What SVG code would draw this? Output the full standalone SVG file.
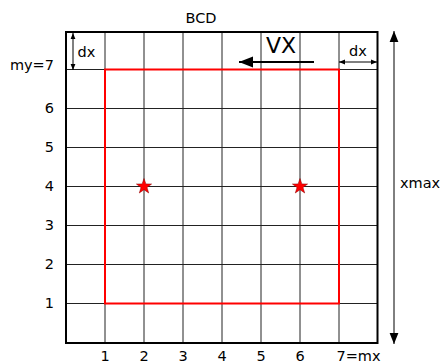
<svg xmlns="http://www.w3.org/2000/svg" width="442" height="364" viewBox="0 0 442 364">
<style>
text{font-family:"DejaVu Sans",sans-serif;font-size:14.5px;fill:#000}
.g{stroke:#222;stroke-width:1;fill:none}
.dim{stroke:#000;stroke-width:1;fill:none}
</style>
<defs>
<marker id="ah" viewBox="0 0 10 10" refX="10" refY="5" markerWidth="6" markerHeight="6" orient="auto-start-reverse" markerUnits="userSpaceOnUse"><path d="M0,1 L10,5 L0,9 Z" fill="#000"/></marker>
<marker id="ab" viewBox="0 0 10 10" refX="10" refY="5" markerWidth="11" markerHeight="11" orient="auto-start-reverse" markerUnits="userSpaceOnUse"><path d="M0,1 L10,5 L0,9 Z" fill="#000"/></marker>
<marker id="av" viewBox="0 0 10 10" refX="10" refY="5" markerWidth="14" markerHeight="14" orient="auto-start-reverse" markerUnits="userSpaceOnUse"><path d="M0,1 L10,5 L0,9 Z" fill="#000"/></marker>
</defs>
<g id="grid">
<path class="g" d="M105,32V343M144,32V343M183,32V343M222,32V343M261,32V343M300,32V343M339,32V343M66,69.5H378M66,108.5H378M66,147.5H378M66,186.5H378M66,225.5H378M66,264.5H378M66,303.5H378"/>
<rect x="66" y="32" width="311.5" height="311" fill="none" stroke="#000" stroke-width="2"/>
</g>
<g id="redbox"><rect x="105" y="69.5" width="234" height="234" fill="none" stroke="#f00" stroke-width="2"/></g>
<g id="star1"><path transform="translate(144,186.5)" d="M0,-8 L1.9,-2.6 7.6,-2.5 3,1 4.7,6.5 0,3.2 -4.7,6.5 -3,1 -7.6,-2.5 -1.9,-2.6Z" fill="#f00" stroke="#800" stroke-width="0.5"/></g>
<g id="star2"><path transform="translate(300,186.5)" d="M0,-8 L1.9,-2.6 7.6,-2.5 3,1 4.7,6.5 0,3.2 -4.7,6.5 -3,1 -7.6,-2.5 -1.9,-2.6Z" fill="#f00" stroke="#800" stroke-width="0.5"/></g>
<g id="connectors">
<line class="dim" x1="73" y1="33" x2="73" y2="70" marker-start="url(#ah)" marker-end="url(#ah)"/>
<line class="dim" x1="339" y1="62" x2="377" y2="62" marker-start="url(#ah)" marker-end="url(#ah)"/>
<line x1="314" y1="62" x2="239" y2="62" stroke="#000" stroke-width="2" marker-end="url(#av)"/>
<line class="dim" x1="394" y1="31" x2="394" y2="344" marker-start="url(#ab)" marker-end="url(#ab)"/>
</g>
<g id="labels">
<text x="201" y="23" text-anchor="middle">BCD</text>
<text x="77.5" y="56.5">dx</text>
<text x="349" y="55.5">dx</text>
<text x="281" y="53" text-anchor="middle" style="font-size:22px">VX</text>
<text x="400" y="188">xmax</text>
<text x="54" y="70" text-anchor="end">my=7</text>
<text x="54" y="112.5" text-anchor="end">6</text>
<text x="54" y="151.5" text-anchor="end">5</text>
<text x="54" y="191" text-anchor="end">4</text>
<text x="54" y="230" text-anchor="end">3</text>
<text x="54" y="269" text-anchor="end">2</text>
<text x="54" y="308" text-anchor="end">1</text>
<text x="105" y="361" text-anchor="middle">1</text>
<text x="144" y="361" text-anchor="middle">2</text>
<text x="183" y="361" text-anchor="middle">3</text>
<text x="222" y="361" text-anchor="middle">4</text>
<text x="261" y="361" text-anchor="middle">5</text>
<text x="300" y="361" text-anchor="middle">6</text>
<text x="336.5" y="361">7=mx</text>
</g>
</svg>
